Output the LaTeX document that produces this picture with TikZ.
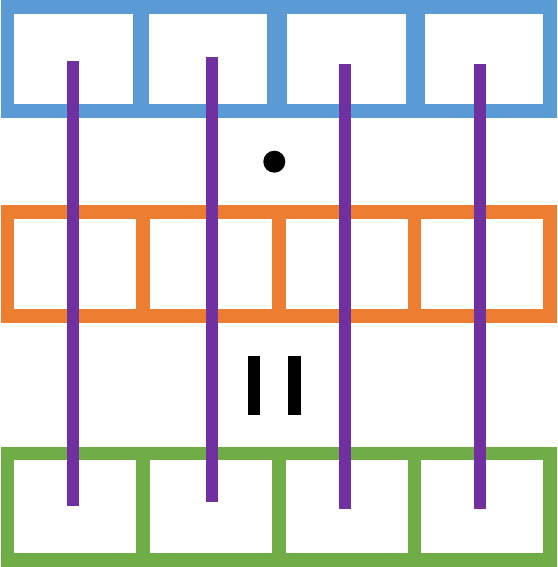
\documentclass[tikz,border=0pt]{standalone}
\definecolor{rowblue}{HTML}{5B9BD5}
\definecolor{roworange}{HTML}{ED7D31}
\definecolor{rowgreen}{HTML}{70AD47}
\definecolor{strandpurple}{HTML}{7030A0}
\begin{document}
\begin{tikzpicture}[x=1pt,y=-1pt,
  cellbox/.style={line width=13.5pt},
  bluecell/.style={cellbox,draw=rowblue},
  orangecell/.style={cellbox,draw=roworange},
  greencell/.style={cellbox,draw=rowgreen},
  strand/.style={draw=strandpurple,line width=12pt,line cap=butt},
  ink/.style={fill=black}]
\useasboundingbox (0,0) rectangle (557,567);
% blue row
\draw[bluecell] (7.5,7) rectangle (142.2,111);
\draw[bluecell] (139.8,7) rectangle (280.2,111);
\draw[bluecell] (273.8,7) rectangle (417.8,111);
\draw[bluecell] (412.5,7) rectangle (550,111);
% orange row
\draw[orangecell] (7.5,212) rectangle (143,316);
\draw[orangecell] (143,212) rectangle (279,316);
\draw[orangecell] (279,212) rectangle (414.5,316);
\draw[orangecell] (414.5,212) rectangle (550,316);
% green row
\draw[greencell] (7.5,453.7) rectangle (143,560);
\draw[greencell] (143,453.7) rectangle (279,560);
\draw[greencell] (279,453.7) rectangle (414.5,560);
\draw[greencell] (414.5,453.7) rectangle (550,560);
% purple strands
\coordinate (s1t) at (73,61);    \coordinate (s1b) at (73,506);
\coordinate (s2t) at (212,57.3); \coordinate (s2b) at (212,502.3);
\coordinate (s3t) at (345,64);   \coordinate (s3b) at (345,509);
\coordinate (s4t) at (480.3,64); \coordinate (s4b) at (480.3,509);
\draw[strand] (s1t) -- (s1b);
\draw[strand] (s2t) -- (s2b);
\draw[strand] (s3t) -- (s3b);
\draw[strand] (s4t) -- (s4b);
% dot and bars
\fill[ink] (274.3,161.7) circle (11);
\fill[ink] (248,356) rectangle (260,415);
\fill[ink] (288.3,356) rectangle (300.7,415);
\end{tikzpicture}
\end{document}
